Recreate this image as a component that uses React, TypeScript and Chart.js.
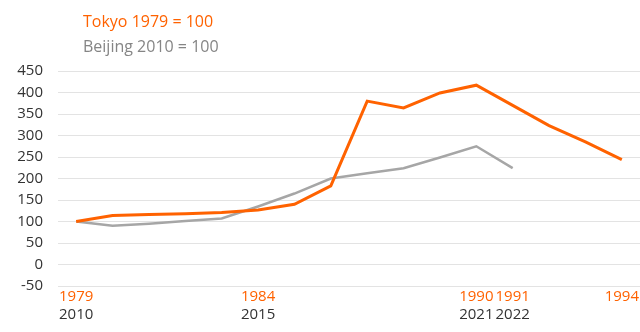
import React, { useEffect, useRef } from "react";
import { Chart, registerables } from "chart.js";

Chart.register(...registerables);

const tokyoYears = ["1979","1980","1981","1982","1983","1984","1985","1986","1987","1988","1989","1990","1991","1992","1993","1994"];
const beijingYears = ["2010","2011","2012","2013","2014","2015","2016","2017","2018","2019","2020","2021","2022"];
const tokyoShown = ["1979", "1984", "1990", "1991", "1994"];
const beijingShown = ["2010", "2015", "2021", "2022"];
const tokyoValues = [100, 114, 116, 118, 121, 127, 140, 183, 380, 364, 399, 417, 370, 323, 285, 244];
const beijingValues = [100, 90, 95, 101, 107, 135, 165, 200, 212, 224, 249, 275, 224];
const tokyoLegend = "Tokyo 1979 = 100";
const beijingLegend = "Beijing 2010 = 100";

const ORANGE = "#FF6200";
const GREY = "#A6A6A6";
const FONT = "'Open Sans', 'Noto Sans', sans-serif";

export default function App() {
  const ref = useRef<HTMLCanvasElement | null>(null);
  useEffect(() => {
    if (!ref.current) return;
    const textPlugin = {
      id: "textRows",
      afterDraw(chart: any) {
        const ctx = chart.ctx;
        const area = chart.chartArea;
        const xs = chart.scales.x;
        ctx.save();
        // legend text
        ctx.font = `16px ${FONT}`;
        ctx.textBaseline = "alphabetic";
        ctx.textAlign = "left";
        ctx.fillStyle = ORANGE;
        ctx.fillText(tokyoLegend, area.left + 25, 27);
        ctx.fillStyle = "#858585";
        ctx.fillText(beijingLegend, area.left + 25, 52);
        // two rows of category labels
        ctx.font = `15px ${FONT}`;
        ctx.textBaseline = "middle";
        ctx.textAlign = "center";
        ctx.fillStyle = ORANGE;
        tokyoYears.forEach((y, i) => {
          if (tokyoShown.includes(y)) ctx.fillText(y, xs.getPixelForValue(i), area.bottom + 11);
        });
        ctx.fillStyle = "#333333";
        beijingYears.forEach((y, i) => {
          if (beijingShown.includes(y)) ctx.fillText(y, xs.getPixelForValue(i), area.bottom + 29);
        });
        ctx.restore();
      },
    };
    const chart = new Chart(ref.current, {
      type: "line",
      data: {
        labels: tokyoYears,
        datasets: [
          {
            label: tokyoLegend,
            data: tokyoValues,
            borderColor: ORANGE,
            backgroundColor: ORANGE,
            borderWidth: 3,
            pointRadius: 0,
            tension: 0,
            order: 1,
          },
          {
            label: beijingLegend,
            data: beijingValues,
            borderColor: GREY,
            backgroundColor: GREY,
            borderWidth: 2.5,
            pointRadius: 0,
            tension: 0,
            order: 2,
          },
        ],
      },
      options: {
        animation: false,
        responsive: true,
        maintainAspectRatio: false,
        layout: { padding: { top: 71, right: 0, left: 0, bottom: 46 } },
        plugins: { legend: { display: false }, tooltip: { enabled: false } },
        scales: {
          x: {
            type: "category",
            display: false,
            offset: true,
          },
          y: {
            min: -50,
            max: 450,
            afterFit: (s: any) => { s.width = 58; },
            grid: { color: "#E3E3E3", lineWidth: 1, drawTicks: false },
            border: { display: false },
            ticks: {
              stepSize: 50,
              padding: 15,
              color: "#333333",
              font: { family: FONT, size: 15 },
            },
          },
        },
      },
      plugins: [textPlugin],
    });
    return () => chart.destroy();
  }, []);
  return (
    <div style={{ position: "fixed", left: 0, top: 0, width: 640, height: 332 }}>
      <canvas ref={ref} />
    </div>
  );
}
